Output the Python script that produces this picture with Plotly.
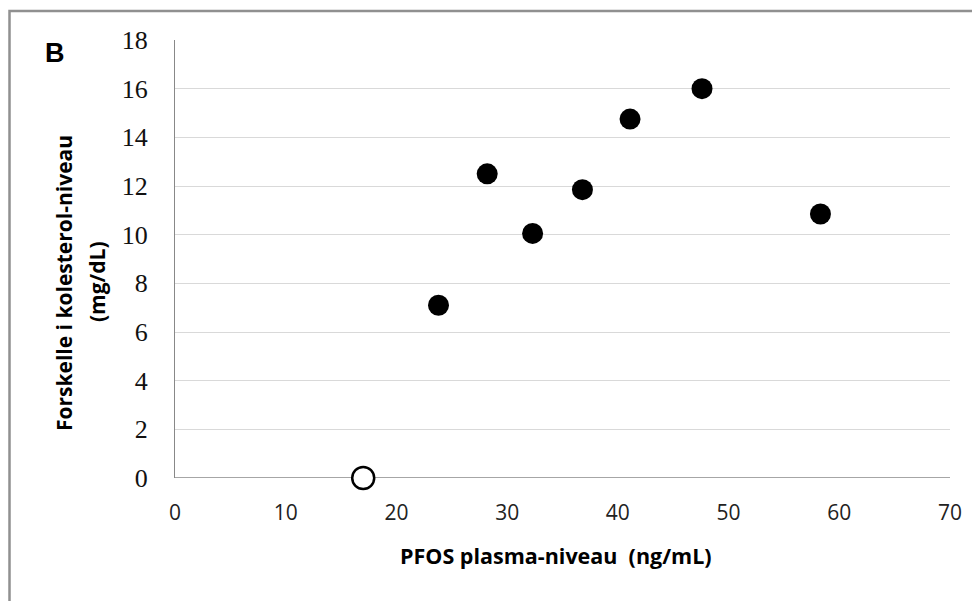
import plotly.graph_objects as go

pfos_x = [23.8, 28.2, 32.3, 36.8, 41.1, 47.6, 58.3]
chol_y = [7.1, 12.5, 10.05, 11.85, 14.75, 16.0, 10.85]
ref_x = [17.0]
ref_y = [0.0]
x_ticks = [0, 10, 20, 30, 40, 50, 60, 70]
y_ticks = [0, 2, 4, 6, 8, 10, 12, 14, 16, 18]

D = 8  # page body margin offset
W, H = 980 - D, 601 - D
ML, MR, MT, MB = 175 - D, 30, 40 - D, 123
pw = W - ML - MR
ph = H - MT - MB

def px(xp):
    return (xp - D - ML) / pw

def py(yp):
    return (H - MB - (yp - D)) / ph

fig = go.Figure()
fig.add_trace(go.Scatter(x=pfos_x, y=chol_y, mode="markers",
                         marker=dict(size=21, color="black", line=dict(width=0)),
                         showlegend=False, cliponaxis=False))
fig.add_trace(go.Scatter(x=ref_x, y=ref_y, mode="markers",
                         marker=dict(size=22, color="white", line=dict(width=2.5, color="black")),
                         showlegend=False, cliponaxis=False))

fig.update_layout(
    width=W, height=H,
    margin=dict(l=ML, r=MR, t=MT, b=MB),
    paper_bgcolor="white", plot_bgcolor="white",
    xaxis=dict(range=[0, 70], tickvals=x_ticks, showgrid=False, zeroline=False,
               showline=False, ticks="", ticklabelstandoff=20,
               tickfont=dict(family="Open Sans, Lato, sans-serif", size=21, color="#222")),
    yaxis=dict(range=[0, 18], tickvals=y_ticks, showgrid=True, gridcolor="#d9d9d9",
               gridwidth=1, zeroline=False, showline=True, linecolor="#888",
               linewidth=1, ticks="", ticklabelstandoff=21,
               tickfont=dict(family="Liberation Serif, serif", size=26, color="#111")),
    shapes=[
        dict(type="line", xref="x", yref="y", x0=0, x1=70, y0=0, y1=0,
             line=dict(color="#888", width=1.5), layer="below"),
        dict(type="rect", xref="paper", yref="paper",
             x0=px(9.5), x1=px(1200), y0=py(11), y1=py(800),
             line=dict(color="#909090", width=2.5), fillcolor="rgba(0,0,0,0)"),
    ],
    annotations=[
        dict(text="<b>B</b>", xref="paper", yref="paper", x=px(55), y=py(53),
             xanchor="center", yanchor="middle", showarrow=False,
             font=dict(family="Liberation Sans, Arial, sans-serif", size=27, color="black")),
        dict(text="<b>PFOS plasma-niveau  (ng/mL)</b>", xref="paper", yref="paper",
             x=px(556), y=py(555), xanchor="center", yanchor="middle", showarrow=False,
             font=dict(family="Open Sans, sans-serif", size=21.5, color="black")),
        dict(text="<b>Forskelle i kolesterol-niveau</b>", xref="paper", yref="paper",
             x=px(64), y=py(283), xanchor="center", yanchor="middle", showarrow=False,
             textangle=-90,
             font=dict(family="Open Sans, sans-serif", size=21, color="black")),
        dict(text="<b>(mg/dL)</b>", xref="paper", yref="paper",
             x=px(97), y=py(282), xanchor="center", yanchor="middle", showarrow=False,
             textangle=-90,
             font=dict(family="Open Sans, sans-serif", size=21, color="black")),
    ],
)

fig.write_html("out.html")
